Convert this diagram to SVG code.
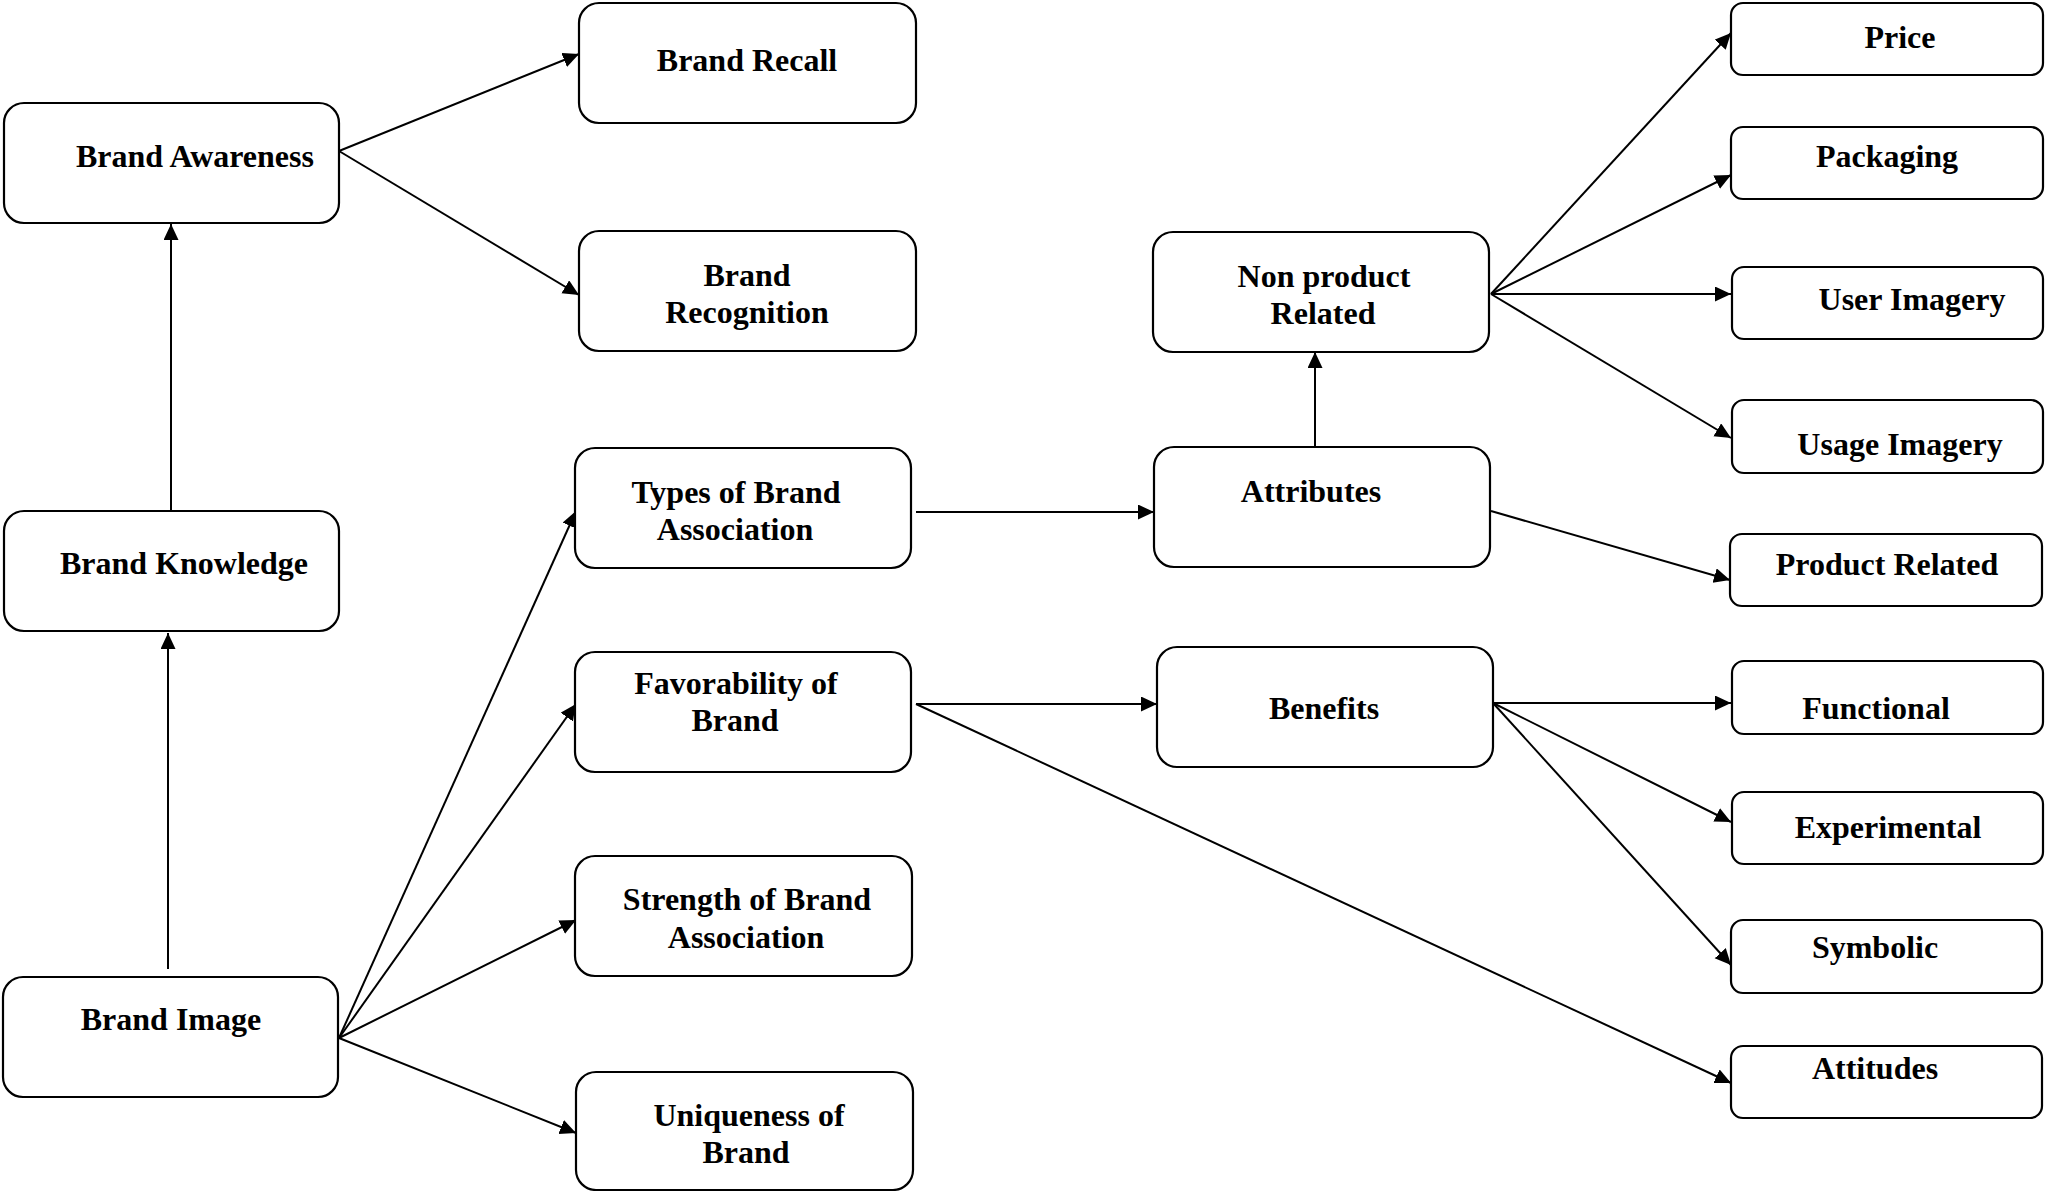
<svg xmlns="http://www.w3.org/2000/svg" width="2045" height="1191" viewBox="0 0 2045 1191">
  <style>
    .box { fill: #ffffff; stroke: #000000; stroke-width: 2.2; }
    .lbl { font-family: "Liberation Serif", "Times New Roman", serif; font-weight: bold; font-size: 32px; fill: #000000; text-anchor: middle; }
    .edge { fill: none; stroke: #000000; stroke-width: 2; marker-end: url(#arrow); }
  </style>
  <defs>
    <marker id="arrow" markerUnits="userSpaceOnUse" markerWidth="17" markerHeight="16" refX="16" refY="7.5" orient="auto">
      <path d="M0,0 L16,7.5 L0,15 z" fill="#000000"/>
    </marker>
  </defs>
  <rect width="2045" height="1191" fill="#ffffff"/>

  <!-- connectors -->
  <g id="connectors">
    <path class="edge" d="M339,151 L579,54"/>
    <path class="edge" d="M339,151 L579,295"/>
    <path class="edge" d="M171,510 L171,224"/>
    <path class="edge" d="M168,969 L168,633"/>
    <path class="edge" d="M339,1038 L576,511"/>
    <path class="edge" d="M339,1038 L576,704"/>
    <path class="edge" d="M339,1038 L576,920"/>
    <path class="edge" d="M339,1038 L576,1133"/>
    <path class="edge" d="M916,512 L1154,512"/>
    <path class="edge" d="M916,704 L1157,704"/>
    <path class="edge" d="M916,704 L1731,1083"/>
    <path class="edge" d="M1315,447 L1315,352"/>
    <path class="edge" d="M1491,511 L1730,580"/>
    <path class="edge" d="M1491,294 L1731,33"/>
    <path class="edge" d="M1491,294 L1731,175"/>
    <path class="edge" d="M1491,294 L1731,294"/>
    <path class="edge" d="M1491,294 L1731,438"/>
    <path class="edge" d="M1493,703 L1731,703"/>
    <path class="edge" d="M1493,703 L1731,822"/>
    <path class="edge" d="M1493,703 L1731,965"/>
  </g>

  <!-- left column -->
  <g id="brand-awareness">
    <rect class="box" x="4" y="103" width="335" height="120" rx="20"/>
    <text class="lbl" x="195" y="167">Brand Awareness</text>
  </g>
  <g id="brand-knowledge">
    <rect class="box" x="4" y="511" width="335" height="120" rx="20"/>
    <text class="lbl" x="184" y="574">Brand Knowledge</text>
  </g>
  <g id="brand-image">
    <rect class="box" x="3" y="977" width="335" height="120" rx="20"/>
    <text class="lbl" x="171" y="1030">Brand Image</text>
  </g>

  <!-- second column -->
  <g id="brand-recall">
    <rect class="box" x="579" y="3" width="337" height="120" rx="20"/>
    <text class="lbl" x="747" y="71">Brand Recall</text>
  </g>
  <g id="brand-recognition">
    <rect class="box" x="579" y="231" width="337" height="120" rx="20"/>
    <text class="lbl" x="747" y="286">Brand</text>
    <text class="lbl" x="747" y="323">Recognition</text>
  </g>
  <g id="types-of-brand-association">
    <rect class="box" x="575" y="448" width="336" height="120" rx="20"/>
    <text class="lbl" x="736" y="503">Types of Brand</text>
    <text class="lbl" x="735" y="540">Association</text>
  </g>
  <g id="favorability-of-brand">
    <rect class="box" x="575" y="652" width="336" height="120" rx="20"/>
    <text class="lbl" x="736" y="694">Favorability of</text>
    <text class="lbl" x="735" y="731">Brand</text>
  </g>
  <g id="strength-of-brand-association">
    <rect class="box" x="575" y="856" width="337" height="120" rx="20"/>
    <text class="lbl" x="747" y="910">Strength of Brand</text>
    <text class="lbl" x="746" y="948">Association</text>
  </g>
  <g id="uniqueness-of-brand">
    <rect class="box" x="576" y="1072" width="337" height="118" rx="20"/>
    <text class="lbl" x="749" y="1126">Uniqueness of</text>
    <text class="lbl" x="746" y="1163">Brand</text>
  </g>

  <!-- third column -->
  <g id="non-product-related">
    <rect class="box" x="1153" y="232" width="336" height="120" rx="20"/>
    <text class="lbl" x="1324" y="287">Non product</text>
    <text class="lbl" x="1323" y="324">Related</text>
  </g>
  <g id="attributes">
    <rect class="box" x="1154" y="447" width="336" height="120" rx="20"/>
    <text class="lbl" x="1311" y="502">Attributes</text>
  </g>
  <g id="benefits">
    <rect class="box" x="1157" y="647" width="336" height="120" rx="20"/>
    <text class="lbl" x="1324" y="719">Benefits</text>
  </g>

  <!-- right column -->
  <g id="price">
    <rect class="box" x="1731" y="3" width="312" height="72" rx="12"/>
    <text class="lbl" x="1900" y="48">Price</text>
  </g>
  <g id="packaging">
    <rect class="box" x="1731" y="127" width="312" height="72" rx="12"/>
    <text class="lbl" x="1887" y="167">Packaging</text>
  </g>
  <g id="user-imagery">
    <rect class="box" x="1732" y="267" width="311" height="72" rx="12"/>
    <text class="lbl" x="1912" y="310">User Imagery</text>
  </g>
  <g id="usage-imagery">
    <rect class="box" x="1732" y="400" width="311" height="73" rx="12"/>
    <text class="lbl" x="1900" y="455">Usage Imagery</text>
  </g>
  <g id="product-related">
    <rect class="box" x="1730" y="534" width="312" height="72" rx="12"/>
    <text class="lbl" x="1887" y="575">Product Related</text>
  </g>
  <g id="functional">
    <rect class="box" x="1732" y="661" width="311" height="73" rx="12"/>
    <text class="lbl" x="1876" y="719">Functional</text>
  </g>
  <g id="experimental">
    <rect class="box" x="1732" y="792" width="311" height="72" rx="12"/>
    <text class="lbl" x="1888" y="838">Experimental</text>
  </g>
  <g id="symbolic">
    <rect class="box" x="1731" y="920" width="311" height="73" rx="12"/>
    <text class="lbl" x="1875" y="958">Symbolic</text>
  </g>
  <g id="attitudes">
    <rect class="box" x="1731" y="1046" width="311" height="72" rx="12"/>
    <text class="lbl" x="1875" y="1079">Attitudes</text>
  </g>
</svg>
